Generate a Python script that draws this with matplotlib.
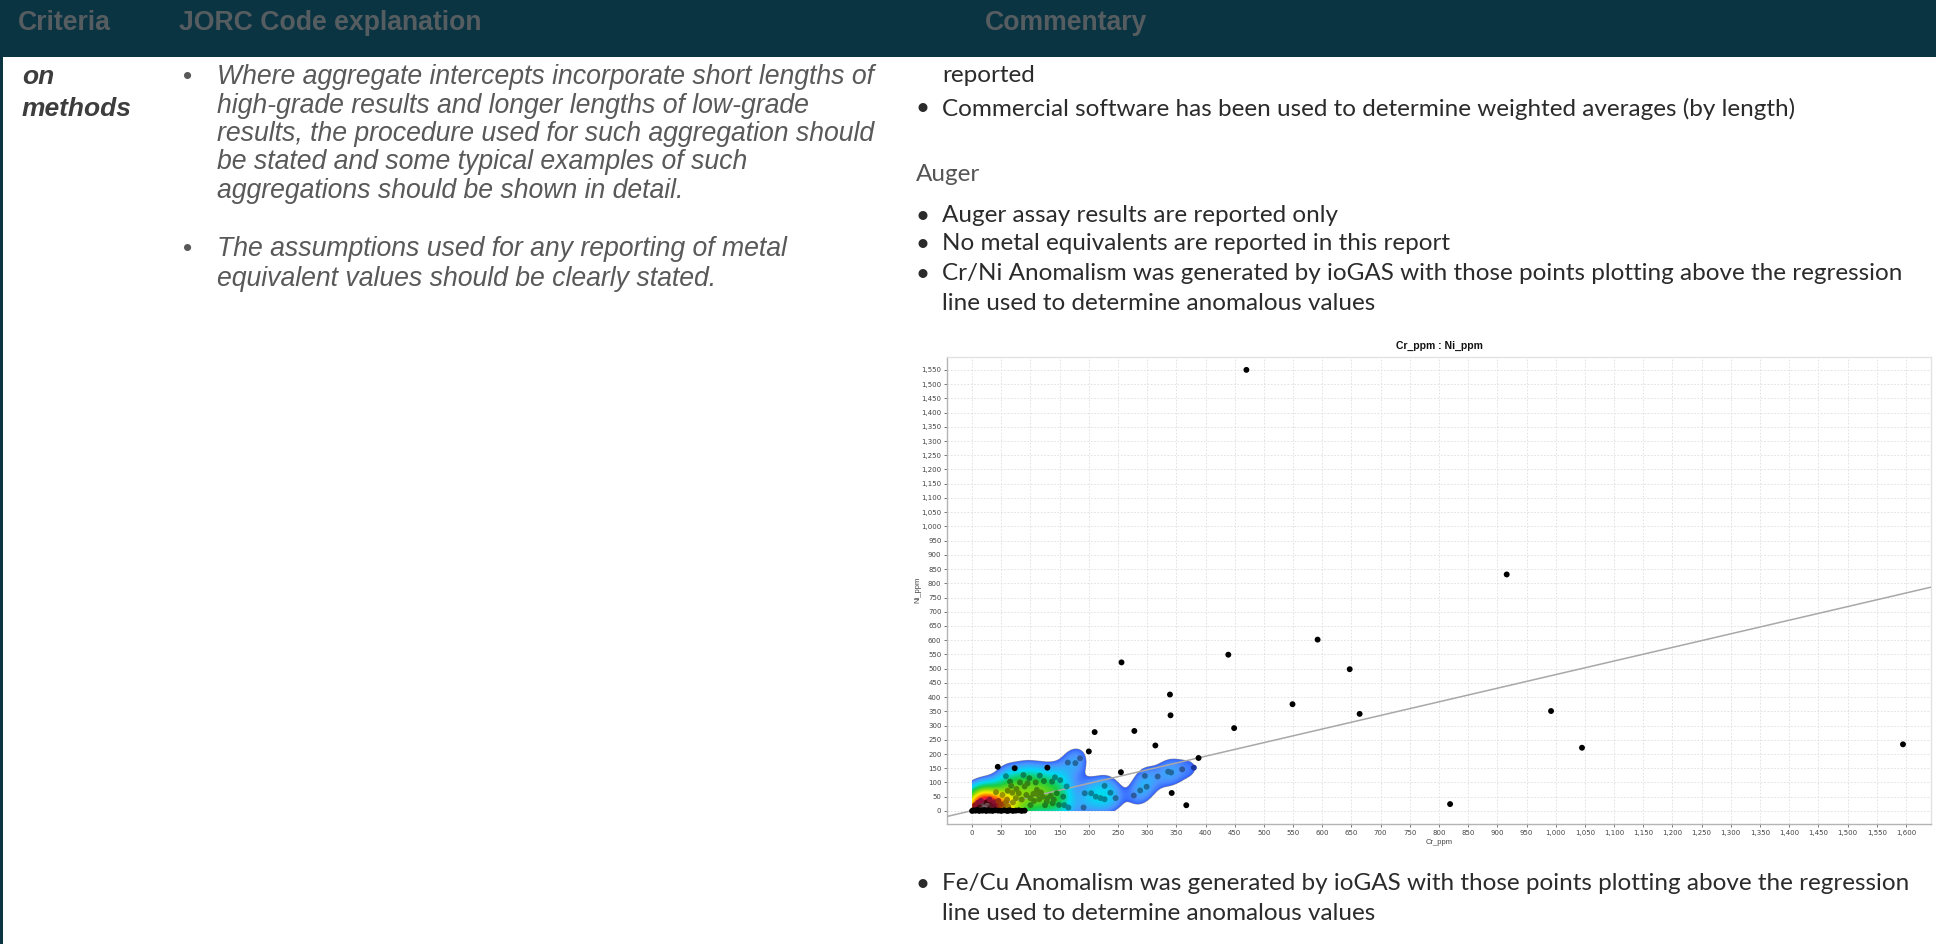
import numpy as np
import matplotlib.pyplot as plt
from matplotlib.colors import LinearSegmentedColormap
from matplotlib.patches import Rectangle
from matplotlib.ticker import MultipleLocator, FuncFormatter

W, H = 1936, 944

# --------------------------------------------------
# Table text
# --------------------------------------------------

header_labels = ["Criteria", "JORC Code explanation", "Commentary"]
criteria_lines = ["on", "methods"]

jorc_bullets = [
    [
        "Where aggregate intercepts incorporate short lengths of",
        "high-grade results and longer lengths of low-grade",
        "results, the procedure used for such aggregation should",
        "be stated and some typical examples of such",
        "aggregations should be shown in detail.",
    ],
    [
        "The assumptions used for any reporting of metal",
        "equivalent values should be clearly stated.",
    ],
]

comment_top = [
    ("", "reported"),
    ("•", "Commercial software has been used to determine weighted averages (by length)"),
]
comment_heading = "Auger"
comment_auger = [
    ("•", "Auger assay results are reported only"),
    ("•", "No metal equivalents are reported in this report"),
    ("•", "Cr/Ni Anomalism was generated by ioGAS with those points plotting above the regression"),
    ("", "line used to determine anomalous values"),
]
comment_bottom = [
    ("•", "Fe/Cu Anomalism was generated by ioGAS with those points plotting above the regression"),
    ("", "line used to determine anomalous values"),
]

# --------------------------------------------------
# Auger assays (ppm)
# --------------------------------------------------

# outliers and sparse samples
cr_sparse = [44, 73, 129, 200, 210, 256, 255, 278, 314, 339, 340, 342, 367, 388,
             439, 449, 549, 592, 647, 664, 470, 916, 819, 992, 1045, 1595]
ni_sparse = [155, 150, 152, 209, 277, 522, 136, 281, 230, 409, 336, 63, 20, 186,
             549, 291, 375, 602, 498, 341, 1550, 831, 24, 351, 222, 234]

# main population
cr_main = [
    65, 82, 98, 109, 123, 137, 151, 162, 67, 95, 76, 90, 111, 41, 61, 69,
    80, 93, 112, 121, 129, 135, 145, 156, 52, 106, 115, 128, 138, 149, 158,
    165, 191, 164, 177, 193, 204, 212, 220, 227, 227, 237, 246, 277, 296,
    299, 318, 336, 341, 380,
    100, 105, 118, 125, 140, 100, 85, 70, 75, 60, 55,
    58, 88, 116, 142, 185, 288, 360,
    5, 8, 10, 12, 15, 18, 20, 22, 25, 28, 30, 32, 35, 38, 40, 42, 45, 48,
    50, 55, 58, 62, 20, 25, 15, 10, 30, 5,
    4, 7, 11, 14, 16, 19, 21, 24, 26, 29, 33, 36, 9, 13, 17, 23, 27, 31,
]
ni_main = [
    103, 100, 115, 100, 105, 103, 108, 86, 88, 97, 77, 86, 74, 66, 71, 64,
    62, 56, 59, 50, 45, 53, 62, 50, 56, 35, 41, 33, 27, 21, 20,
    12, 12, 170, 168, 62, 62, 50, 45, 41, 88, 64, 45, 54, 123,
    85, 121, 138, 135, 152,
    45, 60, 65, 20, 40, 20, 40, 30, 45, 40, 25,
    122, 126, 124, 118, 185, 72, 146,
    5, 10, 3, 18, 8, 12, 5, 15, 10, 20, 6, 25, 12, 30, 8, 18, 35, 12,
    22, 8, 30, 15, 25, 30, 35, 28, 40, 20,
    8, 14, 6, 10, 16, 7, 11, 9, 18, 13, 10, 15, 4, 12, 6, 8, 5, 9,
]

# samples sitting on the Ni detection floor
cr_floor = [0, 3, 6, 9, 12, 15, 18, 21, 24, 27, 30, 35, 40, 45, 50, 55, 60,
            62, 65, 70, 75, 80, 85, 90]
ni_floor = [0, 2, 1, 3, 0, 2, 1, 3, 0, 2, 1, 0, 2, 1, 0, 2, 0,
            1, 2, 0, 1, 2, 0, 1]

# regression line Ni = a * Cr + b
reg_slope = 0.478
reg_intercept = 1.0

# --------------------------------------------------
# Figure and table chrome
# --------------------------------------------------

fig = plt.figure(figsize=(W / 100, H / 100), dpi=100)
fig.patch.set_facecolor("white")


def fx(x):
    return x / W


def fy(y):
    return 1 - y / H


fig.patches.append(Rectangle((0, fy(57)), 1, 57 / H, transform=fig.transFigure,
                             facecolor="#0b3443", edgecolor="none", zorder=0))
fig.patches.append(Rectangle((0, 0), 3 / W, 1, transform=fig.transFigure,
                             facecolor="#0b3443", edgecolor="none", zorder=0))

head_font = dict(family="Liberation Sans", weight="bold", size=19.2, color="#565d60")
for label, x in zip(header_labels, [18, 179, 985]):
    fig.text(fx(x), fy(23), label, va="center", ha="left", **head_font)

for line, y in zip(criteria_lines, [77, 109]):
    fig.text(fx(22), fy(y), line, va="center", ha="left", family="Liberation Sans",
             weight="bold", style="italic", size=19, color="#3d3d3d")

jorc_y = [[77, 106, 134, 162, 191], [249, 279]]
for lines, ys in zip(jorc_bullets, jorc_y):
    fig.text(fx(183), fy(ys[0]), "•", va="center", ha="left",
             family="Liberation Sans", size=19, color="#595959")
    for line, y in zip(lines, ys):
        fig.text(fx(217), fy(y), line, va="center", ha="left", family="Liberation Sans",
                 style="italic", size=19.2, color="#595959")

comment_font = dict(family="Lato", size=17.5, color="#2b2b2b")


def comment_rows(rows, ys):
    for (bullet, line), y in zip(rows, ys):
        if bullet:
            fig.text(fx(916), fy(y), bullet, va="center", ha="left", **comment_font)
        fig.text(fx(942), fy(y), line, va="center", ha="left", **comment_font)


comment_rows(comment_top, [76, 109])
fig.text(fx(916), fy(174), comment_heading, va="center", ha="left",
         family="Lato", size=17.5, color="#555555")
comment_rows(comment_auger, [216, 244, 274, 304])
comment_rows(comment_bottom, [884, 913])

# --------------------------------------------------
# Cr vs Ni scatter with density cloud
# --------------------------------------------------

ax_l, ax_r, ax_t, ax_b = 947, 1931, 356.5, 824
ax = fig.add_axes([fx(ax_l), fy(ax_b), (ax_r - ax_l) / W, (ax_b - ax_t) / H])
ax.set_xlim(-43, 1643)
ax.set_ylim(-46, 1597)

px_per_x = (ax_r - ax_l) / (1643 + 43)
px_per_y = (ax_b - ax_t) / (1597 + 46)

# density is taken over the main population only
kde_x = np.array(cr_main + cr_floor, dtype=float)
kde_y = np.array(ni_main + ni_floor, dtype=float)

# gaussian kernel measured in screen pixels
sx = 8.5 / px_per_x
sy = 11.5 / px_per_y


def density(gx, gy):
    d = np.zeros_like(gx, dtype=float)
    for x, y in zip(kde_x, kde_y):
        d += np.exp(-0.5 * (((gx - x) / sx) ** 2 + ((gy - y) / sy) ** 2))
    return d


gx = np.linspace(0, 420, 900)
gy = np.linspace(0, 260, 500)
GX, GY = np.meshgrid(gx, gy)
dens = density(GX, GY)

thr = 1.4
dmax = dens.max()


def to_level(d):
    return np.clip((d - thr) / (dmax - thr), 0, 1) ** 0.5


level = np.ma.masked_where(dens < thr, to_level(dens))

cloud_cmap = LinearSegmentedColormap.from_list("cloud", [
    (0.00, (0.16, 0.30, 1.00)),
    (0.14, (0.30, 0.58, 1.00)),
    (0.28, (0.00, 0.86, 0.95)),
    (0.42, (0.10, 0.80, 0.25)),
    (0.56, (0.62, 0.86, 0.00)),
    (0.65, (1.00, 0.93, 0.00)),
    (0.74, (1.00, 0.55, 0.00)),
    (0.83, (0.95, 0.10, 0.10)),
    (0.89, (0.88, 0.10, 0.40)),
    (0.95, (0.45, 0.04, 0.05)),
    (1.00, (0.74, 0.64, 0.70)),
])

ax.imshow(level, cmap=cloud_cmap, vmin=0, vmax=1, origin="lower",
          extent=(gx[0], gx[-1], gy[0], gy[-1]), aspect="auto",
          interpolation="bilinear", zorder=2)

# regression line
line_x = np.array([-43, 1643])
ax.plot(line_x, reg_slope * line_x + reg_intercept, color="#a8a8a8", lw=1.1, zorder=3)

# main population coloured by local density, sparse samples in black
pt_x = np.array(cr_main, dtype=float)
pt_y = np.array(ni_main, dtype=float)
pt_d = density(pt_x, pt_y)
pt_level = to_level(pt_d)
pt_colors = []
for d, lv in zip(pt_d, pt_level):
    if d < thr:
        pt_colors.append((0, 0, 0, 1))
    else:
        r, g, b, _ = cloud_cmap(lv)
        pt_colors.append((r * 0.62, g * 0.62, b * 0.62, 1))
ax.scatter(pt_x, pt_y, s=18, c=pt_colors, edgecolors="none", zorder=4)
ax.scatter(cr_sparse, ni_sparse, s=18, c="black", edgecolors="none", zorder=4)
ax.scatter(cr_floor, ni_floor, s=18, c="black", edgecolors="none", zorder=4)

# axes styling
ax.xaxis.set_major_locator(MultipleLocator(50))
ax.yaxis.set_major_locator(MultipleLocator(50))
comma = FuncFormatter(lambda v, p: f"{int(v):,}" if v >= 0 else "")
ax.xaxis.set_major_formatter(comma)
ax.yaxis.set_major_formatter(comma)
ax.tick_params(labelsize=5, colors="#444444", length=2, width=0.5, pad=2)
ax.grid(True, color="#dedede", lw=0.6, linestyle=(0, (2, 2)), zorder=0)
ax.set_axisbelow(True)
for side in ["left", "bottom"]:
    ax.spines[side].set_color("#b4b4b4")
    ax.spines[side].set_linewidth(1.0)
for side in ["top", "right"]:
    ax.spines[side].set_color("#e2e2e2")
    ax.spines[side].set_linewidth(1.0)

fig.text(fx((ax_l + ax_r) / 2), fy(346), "Cr_ppm : Ni_ppm", ha="center", va="center",
         family="Liberation Sans", weight="bold", size=7.5, color="#111111")
fig.text(fx((ax_l + ax_r) / 2), fy(842), "Cr_ppm", ha="center", va="center",
         family="Liberation Sans", size=5.5, color="#444444")
fig.text(fx(918), fy((ax_t + ax_b) / 2), "Ni_ppm", ha="center", va="center",
         rotation=90, family="Liberation Sans", size=5.5, color="#444444")

fig.savefig("out.png", dpi=100)
